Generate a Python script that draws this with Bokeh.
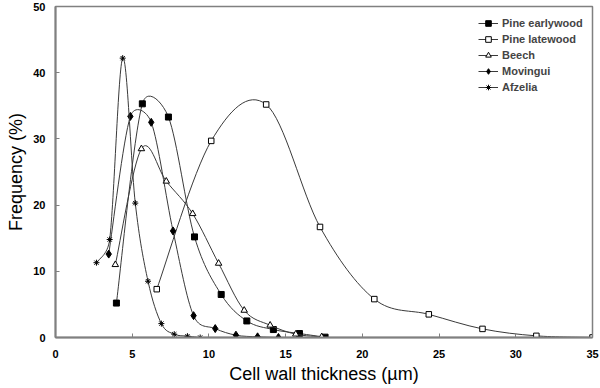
import numpy as np
from bokeh.plotting import figure
from bokeh.models import Legend, LegendItem, ColumnDataSource, FixedTicker, Range1d
from bokeh.embed import file_html
from bokeh.resources import INLINE

# ---- data ----
ew_x = [3.97, 5.66, 7.36, 9.06, 10.80, 12.47, 14.20, 15.90, 17.57]
ew_y = [5.2, 35.3, 33.3, 15.2, 6.5, 2.5, 1.2, 0.6, 0.05]
lw_x = [6.60, 10.15, 13.73, 17.24, 20.78, 24.33, 27.83, 31.34, 35.00]
lw_y = [7.3, 29.7, 35.2, 16.7, 5.8, 3.5, 1.3, 0.25, 0.0]
be_x = [3.90, 5.60, 7.22, 8.94, 10.63, 12.30, 13.99, 15.66, 17.35]
be_y = [11.0, 28.5, 23.6, 18.7, 11.2, 4.1, 1.85, 0.5, 0.1]
mo_x = [3.47, 4.88, 6.24, 7.66, 9.00, 10.41, 11.76, 13.17, 14.53]
mo_y = [12.6, 33.4, 32.5, 16.1, 3.3, 1.35, 0.35, 0.1, 0.0]
af_x = [2.67, 3.53, 4.38, 5.20, 6.03, 6.90, 7.74, 8.60, 9.43]
af_y = [11.3, 14.8, 42.2, 20.3, 8.5, 2.1, 0.5, 0.2, 0.0]

series_names = ["Pine earlywood", "Pine latewood", "Beech", "Movingui", "Afzelia"]
x_ticks = [0, 5, 10, 15, 20, 25, 30, 35]
y_ticks = [0, 10, 20, 30, 40, 50]

FONT = "Liberation Sans"
LINE_COL = "#3a3a3a"
AXIS_COL = "#808080"

# approximate pixel scale, used only to shape the smoothed (Excel-like) curves
SX, SY = 15.33, 6.63


def smooth(xs, ys):
    P = np.column_stack([np.asarray(xs, float) * SX, np.asarray(ys, float) * SY])
    n = len(P)
    T = np.zeros_like(P)
    for i in range(n):
        a = P[max(i - 1, 0)]
        b = P[min(i + 1, n - 1)]
        T[i] = (b - a) / 6.0
    out = {k: [] for k in ["x0", "y0", "x1", "y1", "cx0", "cy0", "cx1", "cy1"]}
    for i in range(n - 1):
        d = np.linalg.norm(P[i + 1] - P[i])

        def clamp(t):
            L = np.linalg.norm(t)
            lim = 0.6 * d
            return t * (lim / L) if (L > lim and L > 0) else t

        c0 = P[i] + clamp(T[i])
        c1 = P[i + 1] - clamp(T[i + 1])
        out["x0"].append(P[i][0] / SX); out["y0"].append(P[i][1] / SY)
        out["x1"].append(P[i + 1][0] / SX); out["y1"].append(P[i + 1][1] / SY)
        out["cx0"].append(c0[0] / SX); out["cy0"].append(c0[1] / SY)
        out["cx1"].append(c1[0] / SX); out["cy1"].append(c1[1] / SY)
    return out


p = figure(width=600, height=388, output_backend="svg", toolbar_location=None,
           x_range=Range1d(0, 35), y_range=Range1d(0, 50))
p.min_border_left = 55
p.min_border_right = 8
p.min_border_top = 6
p.min_border_bottom = 51
p.background_fill_color = "white"
p.border_fill_color = "white"
p.outline_line_color = AXIS_COL
p.outline_line_width = 1.5
p.xgrid.visible = False
p.ygrid.visible = False

styles = [
    (ew_x, ew_y, "square", "black", 6),
    (lw_x, lw_y, "square", "white", 5.5),
    (be_x, be_y, "triangle", "white", 6.5),
    (mo_x, mo_y, "diamond", "black", 8),
    (af_x, af_y, "asterisk", "black", 6),
]

items = []
for name, (xs, ys, mk, fill, sz) in zip(series_names, styles):
    src = ColumnDataSource(smooth(xs, ys))
    br = p.bezier("x0", "y0", "x1", "y1", "cx0", "cy0", "cx1", "cy1", source=src,
                  line_color=LINE_COL, line_width=1)
    mr = p.scatter(xs, ys, marker=mk, size=sz, fill_color=fill, line_color="black", line_width=1)
    items.append(LegendItem(label=name, renderers=[br, mr]))

legend = Legend(items=items, location=(423, 243), border_line_color=None,
                background_fill_alpha=0, label_text_font=FONT, label_text_font_style="bold",
                label_text_font_size="11px", glyph_width=20, glyph_height=14, label_height=14,
                label_standoff=4, spacing=2, padding=5, margin=0)
p.add_layout(legend)

for ax in (p.xaxis[0], p.yaxis[0]):
    ax.axis_line_color = AXIS_COL
    ax.axis_line_width = 2
    ax.major_tick_line_color = AXIS_COL
    ax.major_tick_in = 4
    ax.major_tick_out = 0
    ax.minor_tick_line_color = None
    ax.major_label_text_font = FONT
    ax.major_label_text_font_style = "bold"
    ax.major_label_text_font_size = "11px"
    ax.major_label_text_color = "black"
    ax.axis_label_text_font = FONT
    ax.axis_label_text_font_style = "normal"
    ax.axis_label_text_font_size = "18px"
    ax.axis_label_text_color = "black"

p.xaxis.ticker = FixedTicker(ticks=x_ticks)
p.yaxis.ticker = FixedTicker(ticks=y_ticks)
p.xaxis.major_label_standoff = 12
p.xaxis.axis_label_standoff = 3
p.yaxis.major_label_standoff = 10
p.yaxis.axis_label_standoff = 4
p.xaxis.axis_label = "Cell wall thickness (µm)"
p.yaxis.axis_label = "Frequency (%)"

open("out.html", "w").write(file_html(p, INLINE))
